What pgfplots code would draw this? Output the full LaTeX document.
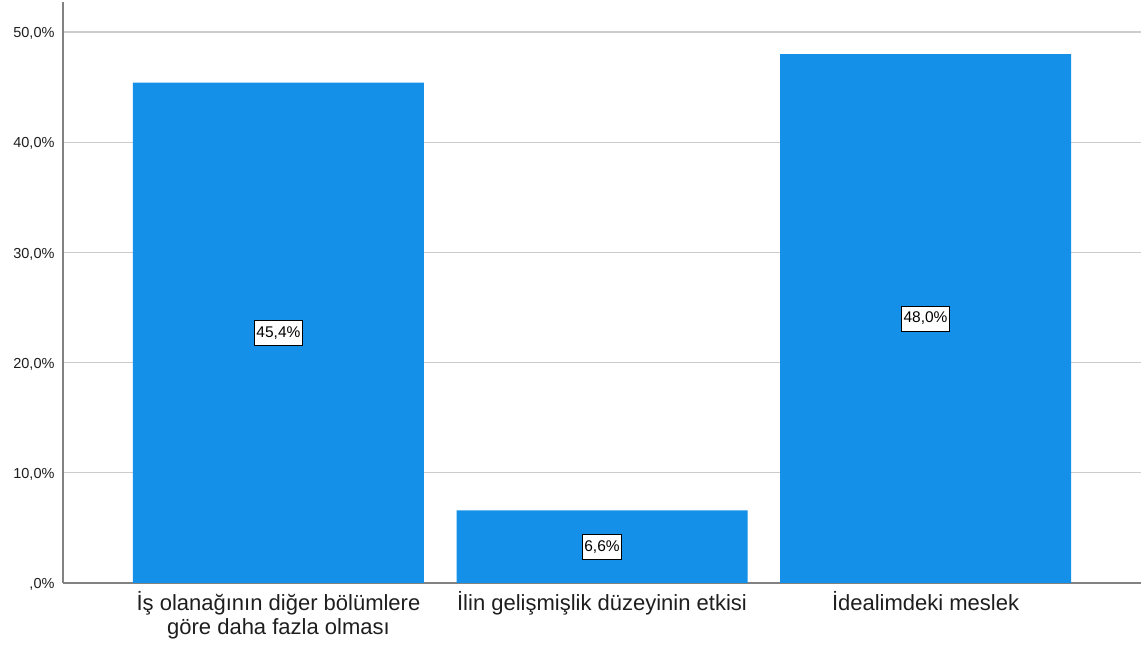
\documentclass[border=0pt]{standalone}
\usepackage{pgfplots}
\pgfplotsset{compat=1.18}
\usepackage{fontspec}
\setmainfont{Liberation Sans}
\definecolor{barblue}{RGB}{20,144,232}
\definecolor{gridgray}{RGB}{204,204,204}
\definecolor{axisgray}{RGB}{130,130,130}
\definecolor{txt}{RGB}{30,30,30}
\begin{document}
\begin{tikzpicture}[x=1pt,y=1pt]
\useasboundingbox (0,0) rectangle (1146,653);
\begin{axis}[
  at={(63pt,70pt)}, anchor=south west,
  scale only axis, width=1078pt, height=581pt,
  xmin=-0.666, xmax=2.666, ymin=0, ymax=52.72,
  axis x line*=bottom, axis y line*=left,
  axis line style={axisgray, line width=1.2pt, -},
  major tick length=0pt,
  ymajorgrids, grid style={gridgray, line width=1.2pt},
  ytick={0,10,20,30,40,50},
  yticklabels={{,0\%},{10,0\%},{20,0\%},{30,0\%},{40,0\%},{50,0\%}},
  yticklabel style={font=\fontsize{14.5}{17}\selectfont, text=txt, xshift=-5pt, yshift=-1.5pt},
  xtick={0,1,2},
  xticklabels={{İş olanağının diğer bölümlere\\göre daha fazla olması},{İlin gelişmişlik düzeyinin etkisi},{İdealimdeki meslek}},
  xticklabel style={align=center, font=\fontsize{22}{24}\selectfont, text=txt, yshift=-5pt},
]
\addplot[ybar, bar width=291pt, bar shift=0pt, fill=barblue, draw=none] coordinates {(0,45.4) (1,6.6) (2,48.0)};
\addplot[draw=none, mark=none, nodes near coords, point meta=explicit symbolic,
  nodes near coords style={anchor=center, fill=white, draw=black, line width=0.9pt, inner xsep=2pt, inner ysep=0pt, minimum height=25pt, text=black, font=\fontsize{15.5}{18}\selectfont}]
  coordinates {(0,22.7)[45,4\%] (1,3.3)[6,6\%] (2,24.0)[48,0\%]};
\end{axis}
\end{tikzpicture}
\end{document}
